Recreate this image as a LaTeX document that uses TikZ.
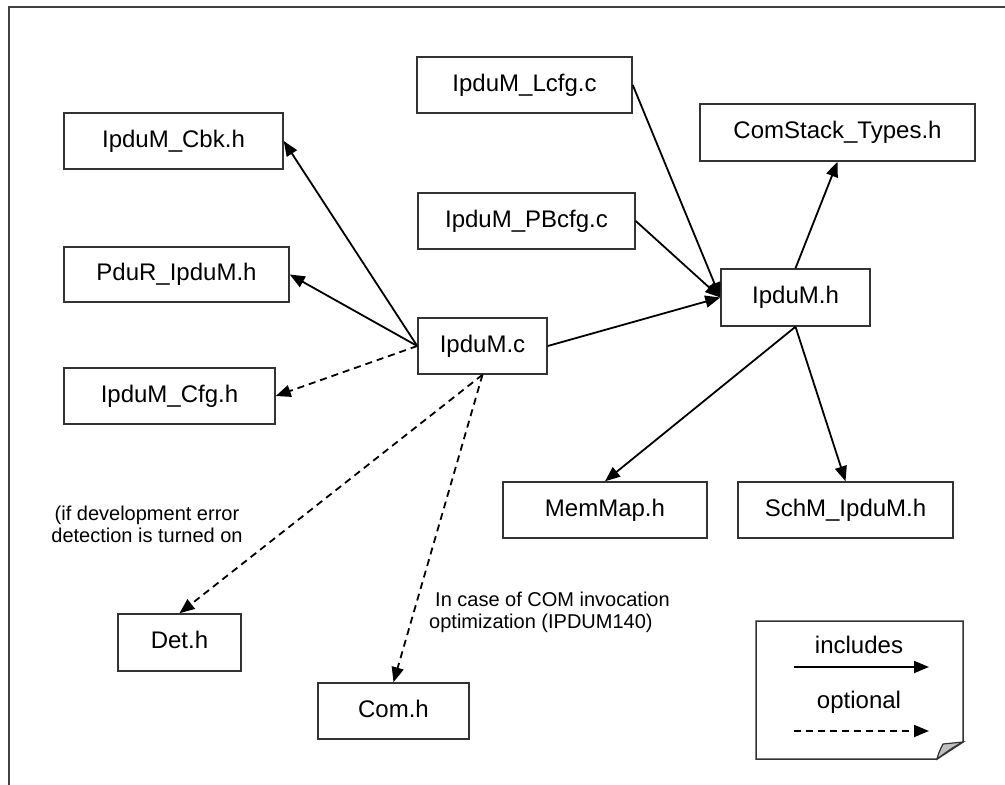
\documentclass[tikz,border=0pt]{standalone}
\usepackage{fontspec}
\setmainfont{Liberation Sans}
\usetikzlibrary{arrows.meta}

\begin{document}
\begin{tikzpicture}[x=1pt,y=-1pt,
  filebox/.style={draw=black!80, line width=1.5pt, inner sep=0pt,
    text height=17pt, text depth=5pt, font=\fontsize{24}{28}\selectfont},
  dep/.style={line width=1.8pt, -{Triangle[length=15pt,width=12pt]}},
  optdep/.style={dep, dash pattern=on 7pt off 5pt},
  note/.style={font=\fontsize{20}{22}\selectfont, inner sep=0pt},
  legendtext/.style={font=\fontsize{24}{28}\selectfont, inner sep=0pt}]

\useasboundingbox (0,0) rectangle (1005,785);

% page frame (top and left edges)
\draw[line width=2pt, black!75] (9,785) -- (9,7) -- (1005,7);

% header and source files
\node[filebox, minimum width=219pt, minimum height=56pt] (cbk)      at (173.5,141)  {IpduM\_Cbk.h};
\node[filebox, minimum width=225pt, minimum height=55pt] (pdur)     at (176.5,274.5){PduR\_IpduM.h};
\node[filebox, minimum width=211pt, minimum height=56pt] (cfg)      at (169.5,396)  {IpduM\_Cfg.h};
\node[filebox, minimum width=215pt, minimum height=56pt] (lcfg)     at (524.5,85)   {IpduM\_Lcfg.c};
\node[filebox, minimum width=217pt, minimum height=56pt] (pbcfg)    at (526.5,221)  {IpduM\_PBcfg.c};
\node[filebox, minimum width=129pt, minimum height=56pt] (ipc)      at (482.5,346)  {IpduM.c};
\node[filebox, minimum width=275pt, minimum height=57pt] (comstack) at (837.5,132.5){ComStack\_Types.h};
\node[filebox, minimum width=149pt, minimum height=57pt] (iph)      at (795.5,297.5){IpduM.h};
\node[filebox, minimum width=204pt, minimum height=56pt] (memmap)   at (605,510)    {MemMap.h};
\node[filebox, minimum width=215pt, minimum height=56pt] (schm)     at (845.5,510)  {SchM\_IpduM.h};
\node[filebox, minimum width=123pt, minimum height=57pt] (det)      at (179.5,642.5){Det.h};
\node[filebox, minimum width=151pt, minimum height=56pt] (com)      at (393.5,711)  {Com.h};

% annotations
\node[note, align=center] (detnote) at (147,524)
  {(if development error\\detection is turned on};
\node[note, align=left, anchor=west] (comnote) at (429,612)
  {\hspace*{6pt}In case of COM invocation\\optimization (IPDUM140)};

% include relations
\draw[dep] (ipc.west) -- (cbk.east);
\draw[dep] (ipc.west) -- (pdur.east);
\draw[optdep] (ipc.west) -- (cfg.east);
\draw[dep] (ipc.east) -- (iph.west);
\draw[dep] (lcfg.east) -- (iph.west);
\draw[dep] (pbcfg.east) -- (iph.west);
\draw[dep] (iph.north) -- (comstack.south);
\draw[dep] (iph.south) -- (memmap.north);
\draw[dep] (iph.south) -- (schm.north);
\draw[optdep] (ipc.south) -- (det.north);
\draw[optdep] (ipc.south) -- (com.north);

% legend sheet with curled corner
\draw[line width=1.5pt, black!80, fill=white]
  (756,621) -- (963,621) -- (963,742) -- (937,759) -- (756,759) -- cycle;
\draw[line width=1.2pt, black!80, fill=black!25]
  (937,759) .. controls (939,752) .. (943,744) -- (963,742)
  .. controls (952,748) .. (937,759) -- cycle;

\node[legendtext] (inclabel) at (859,645) {includes};
\coordinate (incA) at (794,667);
\coordinate (incB) at (929,667);
\draw[dep] (incA) -- (incB);
\node[legendtext] (optlabel) at (859,702) {optional};
\coordinate (optA) at (794,731);
\coordinate (optB) at (929,731);
\draw[optdep] (optA) -- (optB);

\end{tikzpicture}
\end{document}
